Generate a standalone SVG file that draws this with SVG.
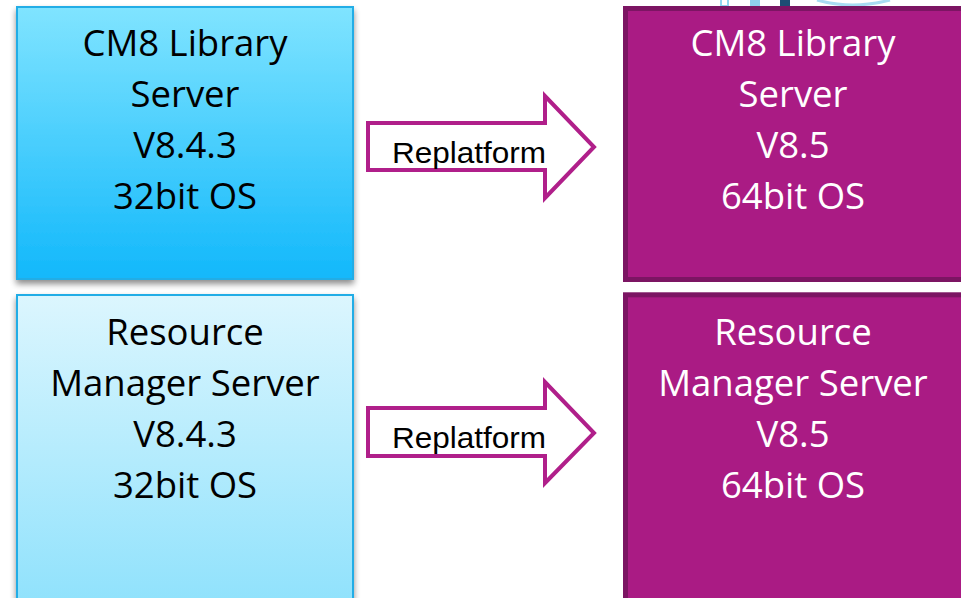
<svg xmlns="http://www.w3.org/2000/svg" width="961" height="598" viewBox="0 0 961 598">
<defs>
<linearGradient id="g1" x1="0" y1="0" x2="0" y2="1">
<stop offset="0" stop-color="#80e4ff"/>
<stop offset="1" stop-color="#12b8fb"/>
</linearGradient>
<linearGradient id="g2" x1="0" y1="0" x2="0" y2="1">
<stop offset="0" stop-color="#dcf6fe"/>
<stop offset="1" stop-color="#8de1fc"/>
</linearGradient>
<filter id="sh" x="-10%" y="-10%" width="120%" height="125%">
<feGaussianBlur in="SourceAlpha" stdDeviation="3"/>
<feOffset dx="0" dy="4" result="b"/>
<feComponentTransfer><feFuncA type="linear" slope="0.45"/></feComponentTransfer>
<feMerge><feMergeNode/><feMergeNode in="SourceGraphic"/></feMerge>
</filter>
</defs>
<style>
.old{stroke:#22ade6;stroke-width:2}
.new{fill:#aa1b84;stroke:#7c1563;stroke-width:5}
.t{font-family:"Open Sans","Noto Sans",sans-serif;font-size:36.5px;text-anchor:middle}
.dark{fill:#000}
.light{fill:#fff}
.arrow{fill:#fff;stroke:#b01f8a;stroke-width:4;stroke-linejoin:miter}
.lbl{font-family:"Liberation Sans",Arial,sans-serif;font-size:30px;fill:#000}
</style>
<rect width="961" height="598" fill="#fff"/>
<g id="logo-fragment">
<rect x="721" y="-2" width="7" height="8" fill="none" stroke="#8fd6f2" stroke-width="2"/>
<rect x="750" y="-2" width="10" height="8" fill="#8fd0ee"/>
<rect x="780" y="-2" width="10" height="8" fill="#1d4d74"/>
<path d="M817,0 Q852,10 890,0" fill="none" stroke="#a8dcf3" stroke-width="3"/>
</g>
<g id="old-library">
<rect class="old" x="17" y="7" width="336" height="272" fill="url(#g1)" filter="url(#sh)"/>
<text class="t dark"><tspan x="185" y="56">CM8 Library</tspan><tspan x="185" y="107">Server</tspan><tspan x="185" y="158">V8.4.3</tspan><tspan x="185" y="209">32bit OS</tspan></text>
</g>
<g id="old-resource">
<rect class="old" x="17" y="295" width="336" height="320" fill="url(#g2)" filter="url(#sh)"/>
<text class="t dark"><tspan x="185" y="345">Resource</tspan><tspan x="185" y="396">Manager Server</tspan><tspan x="185" y="447">V8.4.3</tspan><tspan x="185" y="498">32bit OS</tspan></text>
</g>
<g id="new-library">
<rect class="new" x="625.5" y="8.5" width="345" height="271"/>
<text class="t light"><tspan x="793" y="56">CM8 Library</tspan><tspan x="793" y="107">Server</tspan><tspan x="793" y="158">V8.5</tspan><tspan x="793" y="209">64bit OS</tspan></text>
</g>
<g id="new-resource">
<rect class="new" x="625.5" y="294.8" width="345" height="320"/>
<text class="t light"><tspan x="793" y="345">Resource</tspan><tspan x="793" y="396">Manager Server</tspan><tspan x="793" y="447">V8.5</tspan><tspan x="793" y="498">64bit OS</tspan></text>
</g>
<g id="connectors">
<g id="arrow1">
<path class="arrow" d="M368,123 L545,123 L545,96 L594,147 L545,198 L545,170 L368,170 Z"/>
<text class="lbl" x="392" y="163" textLength="154" lengthAdjust="spacingAndGlyphs">Replatform</text>
</g>
<g id="arrow2">
<path class="arrow" d="M368,408 L545,408 L545,382 L594,433 L545,483 L545,456 L368,456 Z"/>
<text class="lbl" x="392" y="448" textLength="154" lengthAdjust="spacingAndGlyphs">Replatform</text>
</g>
</g>
</svg>
